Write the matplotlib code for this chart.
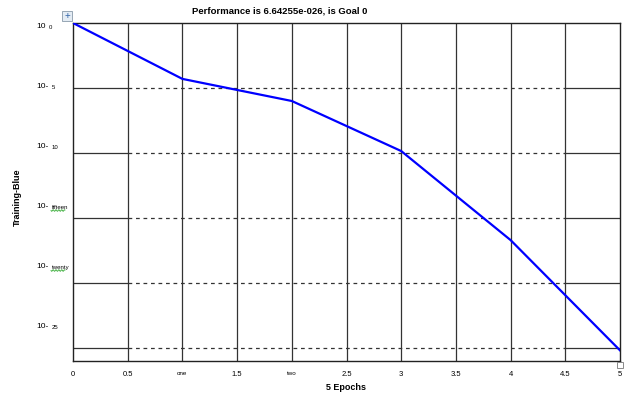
import matplotlib
matplotlib.use("Agg")
import matplotlib.pyplot as plt
import matplotlib.patches as mpatches
import numpy as np

plt.rcParams['font.family'] = ['Liberation Sans', 'DejaVu Sans']

# training record, one value per epoch
epochs = [0, 1, 2, 3, 4, 5]
perf_exp = [0.0, -4.3, -6.0, -9.85, -16.7, -25.18]

x_ticks = [0, 0.5, 1, 1.5, 2, 2.5, 3, 3.5, 4, 4.5, 5]
x_labels = ["0", "0.5", "one", "1.5", "two", "2.5", "3", "3.5", "4", "4.5", "5"]
grid_exp = [-5, -10, -15, -20, -25]
y_main = ["10", "10-", "10-", "10-", "10-", "10-"]
y_sub = ["0", "5", "10", "fifteen", "twenty", "25"]

title = "Performance is 6.64255e-026, is Goal 0"

W, H = 628, 403
fig = plt.figure(figsize=(W / 100, H / 100), dpi=100)
ax = fig.add_axes([73 / W, 1 - 361 / H, 547 / W, 338 / H])

perf = [10.0 ** e for e in perf_exp]
ax.semilogy(epochs, perf, color='#0000ff', lw=1.6, zorder=5)
ax.set_xlim(0, 5)
ax.set_ylim(1e-26, 1e0)

# vertical grid: solid
for xv in x_ticks[1:-1]:
    ax.axvline(xv, color='#333333', lw=0.9, zorder=1)
# horizontal grid: solid at the ends, dashed in between
for e in grid_exp:
    yv = 10.0 ** e
    ax.axhline(yv, xmin=0, xmax=0.1, color='#333333', lw=0.9, zorder=1)
    ax.axhline(yv, xmin=0.1, xmax=0.9, color='#333333', lw=0.9, ls=(0, (3, 3)), zorder=1)
    ax.axhline(yv, xmin=0.9, xmax=1, color='#333333', lw=0.9, zorder=1)

for s in ax.spines.values():
    s.set_color('#222222')
    s.set_linewidth(1.0)

ax.set_xticks(x_ticks)
ax.set_xticklabels(x_labels, fontsize=5.5)
for lab in ax.get_xticklabels():
    if lab.get_text() in ("one", "two"):
        lab.set_fontsize(4.5)
ax.set_yticks([])
ax.minorticks_off()
ax.tick_params(axis='x', length=0, pad=7)
ax.tick_params(axis='y', which='both', length=0)

# y labels placed like the original (evenly spaced, drifting off the lines)
label_px = [26, 86, 146, 206, 266, 326]
for px, m, s in zip(label_px, y_main, y_sub):
    yf = (361 - px) / 338
    ax.text((36 - 73) / 547, yf, m, transform=ax.transAxes, fontsize=6,
            ha='left', va='center')
    sx = 49 if m == "10" else 51.5
    ax.text((sx - 73) / 547, (361 - px - 1.5) / 338, s, transform=ax.transAxes,
            fontsize=4.3, ha='left', va='center')

# spell-check squiggles under the word labels
for px, x0, x1 in [(206, 51, 65), (266, 51, 65)]:
    xs = np.linspace(x0, x1, 40)
    ys = px + 4.5 + 0.8 * np.sin((xs - x0) * 2.2)
    ax.plot((xs - 73) / 547, (361 - ys) / 338, color='#33aa33', lw=0.6,
            transform=ax.transAxes, clip_on=False)

ax.set_xlabel("5 Epochs", fontsize=6.5, fontweight='bold', labelpad=4)
fig.text(17 / W, 1 - 197 / H, "Training-Blue", rotation=90, fontsize=6.5,
         fontweight='bold', ha='center', va='center')
fig.text(280 / W, 1 - 11 / H, title, fontsize=6.8, fontweight='bold',
         ha='center', va='center')

# little move handle top-left and resize box bottom-right
fig.patches.append(mpatches.Rectangle((62 / W, 1 - 21 / H), 10 / W, 10 / H,
                                      transform=fig.transFigure, facecolor='#e4ecf4',
                                      edgecolor='#8899aa', lw=0.6))
fig.text(67 / W, 1 - 16 / H, "+", fontsize=7, color='#3366aa', ha='center', va='center')
fig.patches.append(mpatches.Rectangle((617 / W, 1 - 368 / H), 6 / W, 6 / H,
                                      transform=fig.transFigure, facecolor='white',
                                      edgecolor='#777777', lw=0.6))

fig.savefig("out.png", dpi=100)
